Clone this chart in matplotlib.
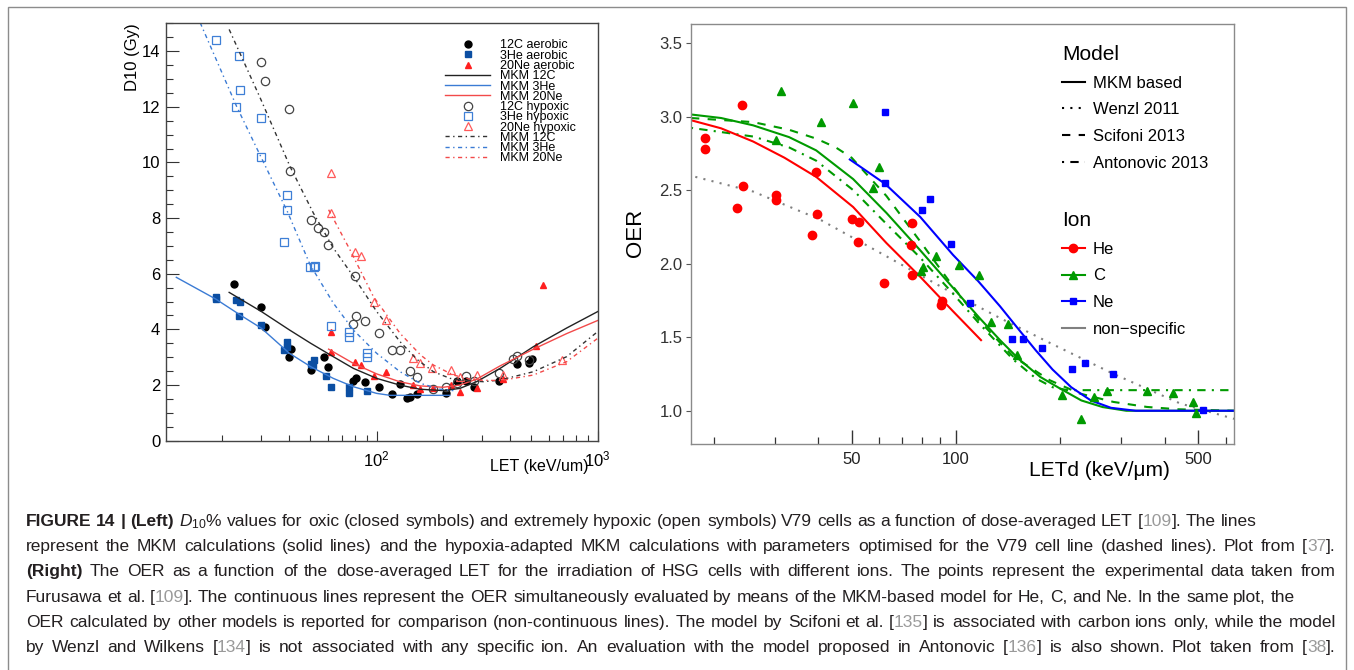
import matplotlib
matplotlib.use('Agg')
import matplotlib.pyplot as plt
from matplotlib.lines import Line2D
from matplotlib.patches import Rectangle
from matplotlib.ticker import FixedLocator, FixedFormatter, NullFormatter

plt.rcParams['font.family'] = ['Liberation Sans', 'DejaVu Sans']
plt.rcParams['mathtext.fontset'] = 'custom'
plt.rcParams['mathtext.rm'] = 'Liberation Sans'
plt.rcParams['mathtext.it'] = 'Liberation Sans:italic'
plt.rcParams['mathtext.bf'] = 'Liberation Sans:bold'

# ---------------- LEFT PANEL DATA (LET keV/um, D10 Gy) ----------------
c12_aer_let = [22.6, 30.1, 31.1, 40.3, 40.8, 50.3, 57.8, 60.2, 78.4, 80.6, 88.2, 102, 117, 127, 137, 141,
               152, 206, 232, 254, 276, 359, 430, 491, 502]
c12_aer_d10 = [5.64, 4.79, 4.07, 3.00, 3.29, 2.54, 2.99, 2.64, 2.16, 2.26, 2.10, 1.93, 1.68, 2.04, 1.55, 1.57,
               1.67, 1.73, 2.15, 2.15, 1.94, 2.15, 2.74, 2.81, 2.95]
he3_aer_let = [18.7, 18.7, 23.1, 24.1, 23.9, 30.1, 39.4, 39.2, 38.2, 50.3, 52.1, 51.7, 59.0, 61.9, 74.7, 74.7, 90.7]
he3_aer_d10 = [5.16, 5.09, 5.04, 4.98, 4.47, 4.14, 3.53, 3.38, 3.26, 2.75, 2.90, 2.72, 2.33, 1.92, 1.94, 1.70, 1.79]
ne20_aer_let = [62.3, 62.3, 80.1, 84.6, 97.3, 110, 146, 157, 180, 216, 238, 285, 371, 526, 564]
ne20_aer_d10 = [3.89, 3.18, 2.84, 2.71, 2.34, 2.48, 2.00, 1.85, 1.91, 1.99, 1.75, 1.91, 2.20, 3.40, 5.61]

c12_hyp_let = [30.1, 31.1, 40.3, 40.6, 50.3, 54.3, 57.8, 60.2, 79.5, 80.6, 78.4, 88.2, 102, 117, 127, 141, 152,
               180, 206, 232, 254, 276, 359, 415, 430, 491]
c12_hyp_d10 = [13.62, 12.92, 11.91, 9.70, 7.92, 7.63, 7.51, 7.04, 5.91, 4.49, 4.19, 4.31, 3.86, 3.25, 3.27, 2.52,
               2.30, 1.85, 1.93, 2.06, 2.34, 2.16, 2.44, 2.93, 3.05, 2.90]
he3_hyp_let = [18.7, 23.9, 24.1, 23.1, 30.1, 30.1, 39.4, 39.4, 38.2, 49.9, 52.1, 52.6, 61.9, 74.7, 74.7, 90.7, 90.7]
he3_hyp_d10 = [14.41, 13.81, 12.61, 12.01, 11.60, 10.21, 8.84, 8.28, 7.15, 6.24, 6.26, 6.29, 4.13, 3.91, 3.74,
               3.14, 3.02]
ne20_hyp_let = [62.3, 62.3, 80.1, 84.6, 97.3, 110, 146, 157, 178, 218, 238, 285, 371, 686]
ne20_hyp_d10 = [9.62, 8.18, 6.79, 6.65, 5.00, 4.34, 2.96, 2.78, 2.60, 2.54, 2.30, 2.36, 2.36, 2.90]

mkm_c12_let = [21.5, 30.1, 40.3, 50.3, 63.6, 78.4, 100, 127, 157, 200, 238, 283, 362, 512, 724, 1000]
mkm_c12_d10 = [5.33, 4.64, 3.98, 3.50, 3.02, 2.60, 2.24, 2.00, 1.85, 1.80, 1.88, 2.12, 2.60, 3.38, 4.05, 4.64]
mkm_he3_let = [12.4, 18.7, 24.1, 30.1, 40.3, 50.3, 63.6, 78.4, 100, 115, 214]
mkm_he3_d10 = [5.87, 5.09, 4.52, 4.04, 3.14, 2.66, 2.24, 1.94, 1.70, 1.63, 1.63]
mkm_ne20_let = [60.6, 78.4, 100, 127, 157, 200, 238, 283, 362, 512, 724, 1000]
mkm_ne20_d10 = [3.29, 2.78, 2.40, 2.12, 1.97, 1.92, 2.00, 2.21, 2.69, 3.29, 3.85, 4.32]

hmkm_c12_let = [21.5, 29.7, 40.5, 51.7, 63.7, 79.5, 100, 127.5, 151.7, 180.5, 214.8, 255.6, 304, 361.8, 511.7,
                724, 1000]
hmkm_c12_d10 = [14.78, 12.32, 9.86, 8.18, 6.92, 5.84, 4.64, 3.56, 2.93, 2.48, 2.24, 2.16, 2.12, 2.18, 2.48,
                3.02, 3.92]
hmkm_he3_let = [15.9, 23.25, 30.1, 39.4, 50.0, 63.7, 78.4, 100, 127.5, 157.9, 193.5, 222.3]
hmkm_he3_d10 = [15.02, 12.01, 10.16, 8.24, 6.32, 4.94, 3.98, 3.14, 2.48, 2.06, 1.85, 1.80]
hmkm_ne20_let = [60.6, 75.7, 96.6, 127.5, 157.9, 180.5, 222.3, 273.9, 361.8, 511.7, 724, 1000]
hmkm_ne20_d10 = [8.30, 6.86, 5.18, 3.86, 3.08, 2.72, 2.36, 2.18, 2.16, 2.36, 2.84, 3.68]

left_labels = ['12C aerobic', '3He aerobic', '20Ne aerobic', 'MKM 12C', 'MKM 3He', 'MKM 20Ne',
               '12C hypoxic', '3He hypoxic', '20Ne hypoxic', 'MKM 12C', 'MKM 3He', 'MKM 20Ne']

# ---------------- RIGHT PANEL DATA (LETd keV/um, OER) ----------------
he_let = [18.9, 18.9, 24.1, 24.3, 23.3, 30.2, 30.2, 39.5, 39.6, 38.3, 50.1, 52.5, 52.0, 62.1, 74.8, 74.2, 74.8,
          90.9, 90.6]
he_oer = [2.851, 2.778, 3.081, 2.525, 2.376, 2.468, 2.430, 2.624, 2.339, 2.195, 2.301, 2.285, 2.147, 1.871, 2.278,
          2.129, 1.923, 1.747, 1.720]
c_let = [31.3, 30.2, 40.8, 50.4, 60.0, 57.6, 80.1, 79.4, 87.6, 101.8, 116.3, 126.2, 141, 149.8, 202.7, 229.5,
         250.7, 272.3, 355, 424, 484, 493]
c_oer = [3.172, 2.839, 2.962, 3.095, 2.656, 2.514, 1.975, 1.950, 2.050, 1.989, 1.925, 1.604, 1.592, 1.379, 1.110,
         0.947, 1.094, 1.135, 1.137, 1.120, 1.060, 0.985]
ne_let = [62.4, 62.4, 80.0, 84.3, 96.7, 109.5, 145.0, 156.4, 176.7, 216.7, 236.2, 283.5, 517]
ne_oer = [3.029, 2.550, 2.362, 2.439, 2.131, 1.735, 1.486, 1.488, 1.429, 1.287, 1.325, 1.253, 1.004]

he_mkm_let = [17.2, 21, 26, 32, 39.5, 50.5, 63, 78.9, 97.7, 118.1]
he_mkm_oer = [2.975, 2.92, 2.83, 2.72, 2.59, 2.385, 2.14, 1.91, 1.68, 1.48]
c_mkm_let = [17.2, 21, 26, 33, 39.5, 50.5, 63, 78.9, 97.7, 117, 134, 152, 175, 200, 230, 265, 310, 634]
c_mkm_oer = [3.014, 2.99, 2.94, 2.86, 2.77, 2.575, 2.345, 2.09, 1.84, 1.63, 1.48, 1.35, 1.23, 1.15, 1.07, 1.025,
             1.0, 1.0]
ne_mkm_let = [49.4, 62.4, 78.9, 98, 116, 134, 152, 170, 190, 215, 245, 280, 330, 634]
ne_mkm_oer = [2.708, 2.543, 2.317, 2.06, 1.88, 1.71, 1.55, 1.41, 1.28, 1.16, 1.07, 1.02, 1.0, 1.0]
scifoni_let = [17.2, 26, 33, 39.5, 45, 50, 63, 78.9, 97.7, 117, 146, 186.6, 227.7, 284.6, 355, 437, 634]
scifoni_oer = [2.99, 2.962, 2.91, 2.85, 2.79, 2.72, 2.46, 2.15, 1.85, 1.61, 1.37, 1.207, 1.117, 1.060, 1.026,
               1.010, 1.0]
antonovic_let = [17.2, 26, 33, 39.5, 50.5, 63, 78.9, 97.7, 117, 146, 170, 190, 210, 634]
antonovic_oer = [2.923, 2.864, 2.79, 2.70, 2.50, 2.27, 2.04, 1.80, 1.59, 1.35, 1.22, 1.16, 1.14, 1.14]
wenzl_let = [17.7, 26, 40.5, 63, 97.7, 134, 187, 285, 443, 634]
wenzl_oer = [2.59, 2.49, 2.30, 2.05, 1.80, 1.63, 1.46, 1.25, 1.05, 0.945]

model_labels = ['MKM based', 'Wenzl 2011', 'Scifoni 2013', 'Antonovic 2013']
ion_labels = ['He', 'C', 'Ne', 'non\u2212specific']

# ---------------- CAPTION ----------------
CAP_LINES = [
    "*FIGURE 14 | (Left)* $D_{10}$% values for oxic (closed symbols) and extremely hypoxic (open symbols) V79 cells as a function of dose-averaged LET [~109~]. The lines",
    "represent the MKM calculations (solid lines) and the hypoxia-adapted MKM calculations with parameters optimised for the V79 cell line (dashed lines). Plot from [~37~].",
    "*(Right)* The OER as a function of the dose-averaged LET for the irradiation of HSG cells with different ions. The points represent the experimental data taken from",
    "Furusawa et al. [~109~]. The continuous lines represent the OER simultaneously evaluated by means of the MKM-based model for He, C, and Ne. In the same plot, the",
    "OER calculated by other models is reported for comparison (non-continuous lines). The model by Scifoni et al. [~135~] is associated with carbon ions only, while the model",
    "by Wenzl and Wilkens [~134~] is not associated with any specific ion. An evaluation with the model proposed in Antonovic [~136~] is also shown. Plot taken from [~38~].",
]

W, H = 1354, 670
fig = plt.figure(figsize=(W / 100, H / 100), dpi=100)
fig.patch.set_facecolor('white')


def fx(px):
    return px / W


def fy(py):
    return 1 - py / H


# ================= LEFT PANEL =================
axL = fig.add_axes([fx(165.7), fy(440.7), fx(597.7) - fx(165.7), fy(23.3) - fy(440.7)])
axL.set_xscale('log')

BLK = '#000000'
BLU_A = '#0b4ea2'
BLU_H = '#3e7fd6'
RED_A = '#ff1f1f'
RED_H = '#ff5a5a'
GRY_H = '#444444'
hyp_ls = (0, (3, 2.5, 1, 2.5))

h1, = axL.plot(c12_aer_let, c12_aer_d10, 'o', color=BLK, ms=5, ls='none')
h2, = axL.plot(he3_aer_let, he3_aer_d10, 's', color=BLU_A, ms=5, ls='none')
h3, = axL.plot(ne20_aer_let, ne20_aer_d10, '^', color=RED_A, ms=5, ls='none')
h7, = axL.plot(c12_hyp_let, c12_hyp_d10, 'o', mfc='none', mec=GRY_H, ms=6, mew=0.9, ls='none')
h8, = axL.plot(he3_hyp_let, he3_hyp_d10, 's', mfc='none', mec=BLU_H, ms=6, mew=0.9, ls='none')
h9, = axL.plot(ne20_hyp_let, ne20_hyp_d10, '^', mfc='none', mec=RED_H, ms=6, mew=0.9, ls='none')
h4, = axL.plot(mkm_c12_let, mkm_c12_d10, '-', color='#222222', lw=1.0)
h5, = axL.plot(mkm_he3_let, mkm_he3_d10, '-', color='#3b7bd4', lw=1.0)
h6, = axL.plot(mkm_ne20_let, mkm_ne20_d10, '-', color='#f24a4a', lw=1.0)
h10, = axL.plot(hmkm_c12_let, hmkm_c12_d10, color='#333333', lw=1.0, ls=hyp_ls)
h11, = axL.plot(hmkm_he3_let, hmkm_he3_d10, color='#3b7bd4', lw=1.0, ls=hyp_ls)
h12, = axL.plot(hmkm_ne20_let, hmkm_ne20_d10, color='#f24a4a', lw=1.0, ls=hyp_ls)

axL.set_xlim(11.1, 1000)
axL.set_ylim(0, 15)
axL.yaxis.set_major_locator(FixedLocator([0, 2, 4, 6, 8, 10, 12, 14]))
axL.yaxis.set_minor_locator(FixedLocator([v * 0.5 for v in range(0, 31)]))
axL.xaxis.set_major_locator(FixedLocator([100, 1000]))
axL.xaxis.set_major_formatter(FixedFormatter(['$10^{2}$', '$10^{3}$']))
axL.xaxis.set_minor_locator(FixedLocator([20, 30, 40, 50, 60, 70, 80, 90, 200, 300, 400, 500, 600, 700, 800, 900]))
axL.xaxis.set_minor_formatter(NullFormatter())
axL.tick_params(axis='both', which='both', direction='in', top=False, right=False, colors='#333333',
                labelcolor='black', width=0.8)
axL.tick_params(axis='y', which='major', length=9, labelsize=12, pad=4)
axL.tick_params(axis='y', which='minor', length=5)
axL.tick_params(axis='x', which='major', length=7, labelsize=12, pad=6)
axL.tick_params(axis='x', which='minor', length=4)
for sp in axL.spines.values():
    sp.set_color('#444444')
    sp.set_linewidth(1.0)

fig.text(fx(133), fy(23), 'D10 (Gy)', rotation=90, ha='center', va='top', fontsize=12)
fig.text(fx(588), fy(466), 'LET (keV/um)', ha='right', va='center', fontsize=11.5)

axL.legend([h1, h2, h3, h4, h5, h6, h7, h8, h9, h10, h11, h12], left_labels, loc='upper left',
           bbox_to_anchor=(fx(445), fy(39.5)), bbox_transform=fig.transFigure, frameon=False, fontsize=9,
           handlelength=3.6, handletextpad=0.8, labelspacing=-0.14, borderpad=0, borderaxespad=0, numpoints=1)

# ================= RIGHT PANEL =================
axR = fig.add_axes([fx(691), fy(444), fx(1234) - fx(691), fy(24) - fy(444)])
axR.set_xscale('log')
RED = '#ff0000'
GRN = '#009a00'
BLU = '#0000ff'
GRAY = '#808080'
lwR = 1.5
axR.plot(wenzl_let, wenzl_oer, color=GRAY, lw=lwR, ls=(0, (1, 3)))
axR.plot(scifoni_let, scifoni_oer, color=GRN, lw=lwR, ls=(0, (4, 4)))
axR.plot(antonovic_let, antonovic_oer, color=GRN, lw=lwR, ls=(0, (1, 3, 4, 3)))
axR.plot(he_mkm_let, he_mkm_oer, color=RED, lw=lwR)
axR.plot(c_mkm_let, c_mkm_oer, color=GRN, lw=lwR)
axR.plot(ne_mkm_let, ne_mkm_oer, color=BLU, lw=lwR)
axR.plot(he_let, he_oer, 'o', color=RED, ms=6, ls='none')
axR.plot(c_let, c_oer, '^', color=GRN, ms=6, ls='none')
axR.plot(ne_let, ne_oer, 's', color=BLU, ms=5, ls='none')

axR.set_xlim(17.2, 634)
axR.set_ylim(0.774, 3.629)
axR.yaxis.set_major_locator(FixedLocator([1.0, 1.5, 2.0, 2.5, 3.0, 3.5]))
axR.yaxis.set_major_formatter(FixedFormatter(['1.0', '1.5', '2.0', '2.5', '3.0', '3.5']))
axR.xaxis.set_major_locator(FixedLocator([50, 100, 500]))
axR.xaxis.set_major_formatter(FixedFormatter(['50', '100', '500']))
axR.xaxis.set_minor_locator(FixedLocator([20, 30, 40, 60, 70, 80, 90, 200, 300, 400, 600]))
axR.xaxis.set_minor_formatter(NullFormatter())
axR.tick_params(axis='y', which='major', direction='out', length=3.5, width=0.8, colors='#555555',
                labelcolor='#333333', labelsize=12, pad=2.5, right=False)
axR.tick_params(axis='y', which='minor', left=False, right=False)
axR.tick_params(axis='x', which='major', direction='in', length=10, width=1.0, colors='#333333',
                labelcolor='#222222', labelsize=12, pad=6, top=False)
axR.tick_params(axis='x', which='minor', direction='in', length=5, width=0.9, colors='#333333', top=False)
for sp in axR.spines.values():
    sp.set_color('#8a8a8a')
    sp.set_linewidth(1.0)

fig.text(fx(636), fy(233), 'OER', rotation=90, ha='center', va='center', fontsize=16)
fig.text(fx(1099), fy(471), 'LETd (keV/\u03bcm)', ha='center', va='center', fontsize=15)

model_handles = [Line2D([], [], color='black', lw=lwR, ls='-'),
                 Line2D([], [], color='black', lw=lwR, ls=(0, (1, 3))),
                 Line2D([], [], color='black', lw=lwR, ls=(0, (4, 4))),
                 Line2D([], [], color='black', lw=lwR, ls=(0, (1, 3, 4, 3)))]
ion_handles = [Line2D([], [], color=RED, lw=lwR, marker='o', ms=6),
               Line2D([], [], color=GRN, lw=lwR, marker='^', ms=6),
               Line2D([], [], color=BLU, lw=lwR, marker='s', ms=5),
               Line2D([], [], color=GRAY, lw=lwR)]
leg_kw = dict(loc='upper left', bbox_transform=fig.transFigure, frameon=False, fontsize=12, title_fontsize=15,
              alignment='left', handlelength=1.35, handletextpad=0.5, labelspacing=0.7, borderpad=0,
              borderaxespad=0)
legM = axR.legend(model_handles, model_labels, title='Model', bbox_to_anchor=(fx(1062), fy(45)), **leg_kw)
axR.add_artist(legM)
axR.legend(ion_handles, ion_labels, title='Ion', bbox_to_anchor=(fx(1062), fy(211)), **leg_kw)

# ================= FRAME BOX =================
fig.patches.append(Rectangle((fx(8), -0.05), fx(1346) - fx(8), fy(7) + 0.05, transform=fig.transFigure,
                             fill=False, edgecolor='#8c8c8c', lw=1.0))

# ================= CAPTION =================
CAP_JUSTIFY = [False, True, True, False, True, True]
CAP_RIGHT_PX = 1336
CAP_Y_PX = [520.5, 546, 571.5, 597, 622, 647.5]
CAP_X0 = 26
TXT = '#231f20'
REFC = '#9a9a9a'
CAP_FAMILY = ['Liberation Sans', 'DejaVu Sans']
FS = 12.5


def parse(line):
    words, cur = [], []
    state = {'buf': '', 'b': False, 'g': False}

    def flush():
        if state['buf']:
            cur.append((state['buf'], state['b'], state['g']))
            state['buf'] = ''

    for ch in line:
        if ch == '*':
            flush()
            state['b'] = not state['b']
        elif ch == '~':
            flush()
            state['g'] = not state['g']
        elif ch == ' ':
            flush()
            if cur:
                words.append(list(cur))
            cur.clear()
        else:
            state['buf'] += ch
    flush()
    if cur:
        words.append(list(cur))
    return words


renderer = fig.canvas.get_renderer()


def measure(words, fs):
    out = []
    for w in words:
        tot = 0
        for t, b, g in w:
            tx = fig.text(0, 0, t, fontsize=fs, fontweight='bold' if b else 'normal', family=CAP_FAMILY)
            tot += tx.get_window_extent(renderer).width
            tx.remove()
        out.append(tot)
    return out


for line, just, yc in zip(CAP_LINES, CAP_JUSTIFY, CAP_Y_PX):
    words = parse(line)
    fs = FS
    ws = measure(words, fs)
    space = fs * 100 / 72 * 0.278
    target = CAP_RIGHT_PX - CAP_X0
    natural = sum(ws) + space * (len(ws) - 1)
    if natural > target:
        fs = FS * target / natural
        ws = measure(words, fs)
        space = fs * 100 / 72 * 0.278
        natural = sum(ws) + space * (len(ws) - 1)
    gap = (target - sum(ws)) / (len(ws) - 1) if just else space
    x = CAP_X0
    ybase = round(yc + 5)
    for w in words:
        for t, b, g in w:
            tx = fig.text(fx(round(x)), fy(ybase), t, fontsize=fs, fontweight='bold' if b else 'normal',
                          color=REFC if g else TXT, ha='left', va='baseline', family=CAP_FAMILY)
            x += tx.get_window_extent(renderer).width
        x += gap

fig.savefig('out.png', dpi=100, facecolor='white')
